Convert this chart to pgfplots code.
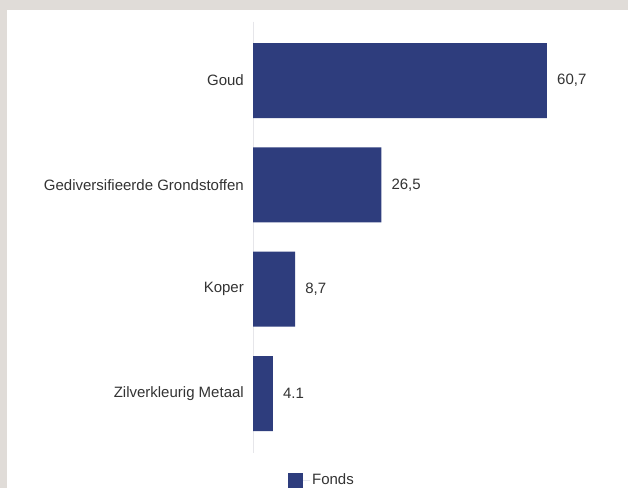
\documentclass[border=0pt]{standalone}
\usepackage{fontspec}
\setmainfont{Liberation Sans}
\usepackage{pgfplots}
\pgfplotsset{compat=1.18}
\usepackage{pgfplotstable}

\definecolor{fondsblue}{RGB}{46,61,125}
\definecolor{framegray}{RGB}{224,220,216}
\definecolor{axisgray}{RGB}{230,230,234}
\definecolor{labelgray}{RGB}{51,51,51}

% pos value label (4.1 staat met een punt in het origineel)
\pgfplotstableread{
pos value label
0 60.7 60,7
1 26.5 26,5
2 8.7 8,7
3 4.1 4.1
}\fondsdata

\begin{document}
\begin{tikzpicture}[x=1pt,y=1pt]
  \useasboundingbox (0,0) rectangle (628,488);
  \fill[framegray] (0,0) rectangle (628,488);
  \fill[white] (7,0) rectangle (628,478);
  \begin{axis}[
      at={(253pt,35pt)}, anchor=south west,
      scale only axis,
      width=339pt, height=431.4pt,
      xbar, bar width=75pt,
      xmin=0, xmax=70,
      ymin=-0.565, ymax=3.57,
      y dir=reverse,
      axis x line=none,
      axis y line*=left,
      y axis line style={draw=axisgray, line width=0.8pt, -},
      xtick=\empty,
      ytick={0,1,2,3},
      yticklabels={Goud, Gediversifieerde Grondstoffen, Koper, Zilverkleurig Metaal},
      major tick length=0pt,
      yticklabel style={font=\fontsize{15}{18}\selectfont, text=labelgray,
        anchor=east, inner sep=0pt, xshift=-9pt},
      nodes near coords, point meta=explicit symbolic,
      nodes near coords style={font=\fontsize{15}{18}\selectfont, text=labelgray,
        anchor=west, inner sep=0pt, xshift=10pt},
      legend style={at={(0.103,-0.0626)}, anchor=west, draw=none, fill=none,
        inner sep=0pt, font=\fontsize{15}{18}\selectfont, text=labelgray},
      legend image code/.code={
        \path (0pt,0pt) rectangle (22pt,0pt);
        \fill[fondsblue] (0pt,-7.5pt) rectangle (15pt,7.5pt);},
      clip=false,
    ]
    \addplot[fill=fondsblue, draw=none] table[x=value, y=pos, meta=label] {\fondsdata};
    \addlegendentry{Fonds}
  \end{axis}
\end{tikzpicture}
\end{document}
